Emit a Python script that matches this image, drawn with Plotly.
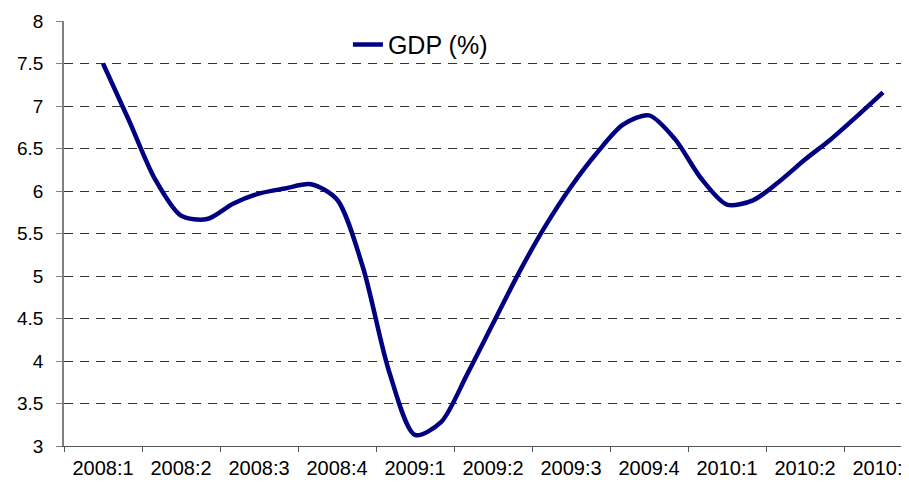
import plotly.graph_objects as go

# Category (quarter) labels on the x axis
quarters = ["2008:1", "2008:2", "2008:3", "2008:4", "2009:1", "2009:2",
            "2009:3", "2009:4", "2010:1", "2010:2", "2010:3"]

gdp_monthly = [7.50, 6.83, 6.14, 5.71, 5.67, 5.85, 5.97, 6.03, 6.08, 5.90,
               5.10, 3.88, 3.13, 3.28, 3.84, 4.44, 5.04, 5.58, 6.05, 6.45,
               6.78, 6.89, 6.61, 6.15, 5.84, 5.89, 6.11, 6.37, 6.61, 6.88,
               7.16]

y_ticks = [3, 3.5, 4, 4.5, 5, 5.5, 6, 6.5, 7, 7.5, 8]

months_per_quarter = 3
x_pos = [i / months_per_quarter for i in range(len(gdp_monthly))]

FONT = "Liberation Sans, Arial, sans-serif"

fig = go.Figure()
fig.add_trace(go.Scatter(
    x=x_pos, y=gdp_monthly, mode="lines", name="GDP (%)",
    line=dict(color="#000080", width=4.5, shape="spline", smoothing=0.8),
    showlegend=True,
))

# the page body adds an 8px offset, so the figure is 8px smaller than the window
fig.update_layout(
    width=901, height=475,
    margin=dict(l=56, r=0, t=13, b=37, autoexpand=False),
    paper_bgcolor="white", plot_bgcolor="white",
    font=dict(family=FONT, color="black"),
    showlegend=True,
    legend=dict(
        x=0.336, y=0.944, xanchor="left", yanchor="middle",
        bgcolor="rgba(0,0,0,0)", borderwidth=0,
        font=dict(family=FONT, size=25, color="black"),
    ),
    xaxis=dict(
        range=[-0.5, -0.5 + 845 / 78],
        tickmode="array", tickvals=list(range(len(quarters))), ticktext=quarters,
        ticks="", showgrid=False, zeroline=False, automargin=False,
        showline=True, linecolor="#555555", linewidth=1,
        tickfont=dict(family=FONT, size=20, color="black"),
        ticklabelstandoff=4, ticklabeloverflow="allow",
        minor=dict(ticks="outside", tick0=-0.5, dtick=1, ticklen=5,
                   tickcolor="#555555", showgrid=False),
    ),
    yaxis=dict(
        range=[3, 8], tickmode="array", tickvals=y_ticks,
        ticktext=[f"{v:g}" for v in y_ticks],
        ticks="outside", ticklen=6, tickcolor="#808080",
        showline=True, linecolor="#808080", linewidth=1.5,
        showgrid=True, gridcolor="#333333", gridwidth=1, griddash="9px,7px",
        zeroline=False, automargin=False,
        tickfont=dict(family=FONT, size=19, color="black"),
        ticklabelstandoff=9, ticklabeloverflow="allow",
    ),
)

fig.write_html("out.html")
